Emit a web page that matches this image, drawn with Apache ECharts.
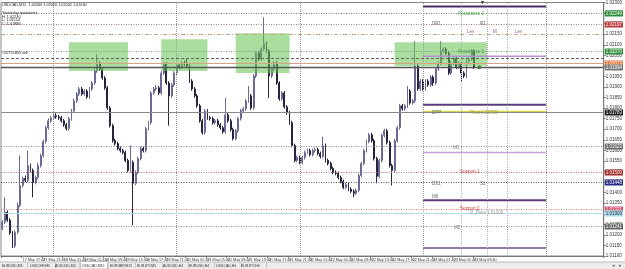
<!DOCTYPE html>
<html><head><meta charset="utf-8">
<script src="https://cdn.jsdelivr.net/npm/echarts@6.0.0/dist/echarts.min.js"></script>
<style>html,body{margin:0;padding:0;background:#fff}#c{width:625px;height:269px}</style>
</head><body><div id="c"></div><script>
const tickLabels = ["17 May 2012","17 May 17:40","17 May 21:40","18 May 01:40","18 May 05:40","18 May 09:40","18 May 13:40","18 May 17:40","18 May 21:40","21 May 01:40","21 May 05:40","21 May 09:40","21 May 13:40","21 May 17:40","21 May 21:40","22 May 01:40","22 May 05:40","22 May 09:40","22 May 13:40","22 May 17:40","22 May 21:40","23 May 01:40","23 May 05:40","23 May 09:40"];
const openP = [1.01230,1.01260,1.01307,1.01270,1.01209,1.01147,1.01213,1.01340,1.01434,1.01467,
1.01458,1.01528,1.01505,1.01448,1.01472,1.01528,1.01576,1.01642,1.01707,1.01740,
1.01754,1.01764,1.01759,1.01754,1.01740,1.01721,1.01703,1.01750,1.01787,1.01834,
1.01867,1.01891,1.01867,1.01881,1.01853,1.01891,1.01919,1.01976,1.02013,1.01985,
1.01943,1.01896,1.01801,1.01717,1.01646,1.01632,1.01609,1.01599,1.01590,1.01552,
1.01505,1.01543,1.01444,1.01496,1.01561,1.01609,1.01599,1.01703,1.01731,1.01872,
1.01891,1.01896,1.01872,1.01966,1.02009,1.01919,1.01858,1.01910,1.01966,1.02004,
1.01994,1.02013,1.02009,1.01999,1.01928,1.01891,1.01858,1.01811,1.01740,1.01684,
1.01787,1.01754,1.01750,1.01731,1.01740,1.01721,1.01707,1.01688,1.01768,1.01740,
1.01698,1.01656,1.01693,1.01750,1.01787,1.01797,1.01834,1.01858,1.01801,1.01952,
1.02060,1.02032,1.02079,1.02107,1.02070,1.01952,1.01985,1.02013,1.01919,1.01844,
1.01872,1.01806,1.01778,1.01731,1.01623,1.01552,1.01566,1.01543,1.01566,1.01590,
1.01599,1.01580,1.01599,1.01604,1.01585,1.01571,1.01623,1.01552,1.01538,1.01514,
1.01496,1.01491,1.01472,1.01453,1.01425,1.01439,1.01416,1.01406,1.01397,1.01411,
1.01481,1.01538,1.01599,1.01642,1.01674,1.01646,1.01561,1.01477,1.01552,1.01670,
1.01693,1.01637,1.01528,1.01505,1.01646,1.01707,1.01811,1.01797,1.01811,1.01881,
1.01825,1.01834,1.01999,1.01891,1.01928,1.01891,1.01928,1.01910,1.01947,1.01919,
1.01985,1.02013,1.02070,1.02079,1.02060,1.01966,1.02013,1.02037,1.01994,1.02013,
1.01966,1.01952,1.02023,1.02032,1.02070];
const closeP = [1.01260,1.01307,1.01270,1.01209,1.01147,1.01213,1.01340,1.01434,1.01467,1.01458,
1.01528,1.01505,1.01448,1.01472,1.01528,1.01576,1.01642,1.01707,1.01740,1.01754,
1.01764,1.01759,1.01754,1.01740,1.01721,1.01703,1.01750,1.01787,1.01834,1.01867,
1.01891,1.01867,1.01881,1.01853,1.01891,1.01919,1.01976,1.02013,1.01985,1.01943,
1.01896,1.01801,1.01717,1.01646,1.01632,1.01609,1.01599,1.01590,1.01552,1.01505,
1.01543,1.01444,1.01496,1.01561,1.01609,1.01599,1.01703,1.01731,1.01872,1.01891,
1.01896,1.01872,1.01966,1.02009,1.01919,1.01858,1.01910,1.01966,1.02004,1.01994,
1.02013,1.02009,1.01999,1.01928,1.01891,1.01858,1.01811,1.01740,1.01684,1.01787,
1.01754,1.01750,1.01731,1.01740,1.01721,1.01707,1.01688,1.01768,1.01740,1.01698,
1.01656,1.01693,1.01750,1.01787,1.01797,1.01834,1.01858,1.01801,1.01952,1.02060,
1.02032,1.02079,1.02107,1.02070,1.01952,1.01985,1.02013,1.01919,1.01844,1.01872,
1.01806,1.01778,1.01731,1.01623,1.01552,1.01566,1.01543,1.01566,1.01590,1.01599,
1.01580,1.01599,1.01604,1.01585,1.01571,1.01623,1.01552,1.01538,1.01514,1.01496,
1.01491,1.01472,1.01453,1.01425,1.01439,1.01416,1.01406,1.01397,1.01411,1.01481,
1.01538,1.01599,1.01642,1.01674,1.01646,1.01561,1.01477,1.01552,1.01670,1.01693,
1.01637,1.01528,1.01505,1.01646,1.01707,1.01811,1.01797,1.01811,1.01881,1.01825,
1.01834,1.01999,1.01891,1.01928,1.01891,1.01928,1.01910,1.01947,1.01919,1.01985,
1.02013,1.02070,1.02079,1.02060,1.01966,1.02013,1.02037,1.01994,1.02013,1.01966,
1.01952,1.02023,1.02032,1.02070,1.01994];
const highP = [1.01269,1.01378,1.01316,1.01279,1.01218,1.01222,1.01352,1.01576,1.01476,1.01481,
1.01599,1.01537,1.01514,1.01481,1.01540,1.01585,1.01651,1.01716,1.01752,1.01763,
1.01773,1.01776,1.01768,1.01763,1.01749,1.01730,1.01759,1.01796,1.01846,1.01876,
1.01900,1.01900,1.01890,1.01890,1.01900,1.01928,1.01985,1.02056,1.02022,1.01994,
1.01952,1.01905,1.01810,1.01726,1.01655,1.01641,1.01618,1.01608,1.01599,1.01561,
1.01623,1.01552,1.01505,1.01570,1.01618,1.01618,1.01712,1.01740,1.01881,1.01900,
1.01910,1.01905,1.01975,1.02018,1.02018,1.01928,1.01919,1.01975,1.02013,1.02013,
1.02022,1.02025,1.02037,1.02008,1.01937,1.01900,1.01867,1.01820,1.01749,1.01796,
1.01796,1.01763,1.01759,1.01749,1.01749,1.01730,1.01716,1.01848,1.01777,1.01749,
1.01707,1.01702,1.01759,1.01796,1.01806,1.01843,1.01905,1.01867,1.01961,1.02069,
1.02069,1.02088,1.02230,1.02116,1.02079,1.01994,1.02022,1.02022,1.01928,1.01881,
1.01881,1.01815,1.01787,1.01740,1.01632,1.01575,1.01575,1.01575,1.01599,1.01608,
1.01608,1.01608,1.01613,1.01613,1.01594,1.01665,1.01632,1.01561,1.01547,1.01523,
1.01505,1.01500,1.01481,1.01462,1.01448,1.01448,1.01425,1.01415,1.01420,1.01490,
1.01547,1.01608,1.01651,1.01683,1.01683,1.01655,1.01570,1.01561,1.01679,1.01702,
1.01702,1.01646,1.01537,1.01655,1.01716,1.01820,1.01820,1.01820,1.01905,1.01890,
1.01843,1.02117,1.02008,1.01937,1.01937,1.01937,1.01937,1.01956,1.01956,1.01994,
1.02022,1.02117,1.02088,1.02088,1.02069,1.02022,1.02046,1.02046,1.02022,1.02022,
1.01975,1.02032,1.02041,1.02079,1.02079];
const lowP = [1.01221,1.01251,1.01261,1.01200,1.01138,1.01138,1.01204,1.01331,1.01425,1.01449,
1.01449,1.01496,1.01378,1.01439,1.01463,1.01519,1.01567,1.01633,1.01698,1.01731,
1.01745,1.01750,1.01745,1.01731,1.01712,1.01694,1.01694,1.01741,1.01778,1.01825,
1.01858,1.01858,1.01858,1.01844,1.01844,1.01882,1.01910,1.01967,1.01976,1.01934,
1.01887,1.01792,1.01708,1.01637,1.01623,1.01600,1.01590,1.01581,1.01543,1.01496,
1.01496,1.01246,1.01435,1.01487,1.01552,1.01590,1.01590,1.01694,1.01722,1.01863,
1.01882,1.01863,1.01863,1.01957,1.01910,1.01717,1.01849,1.01901,1.01957,1.01985,
1.01985,1.02000,1.01990,1.01919,1.01882,1.01849,1.01802,1.01731,1.01675,1.01675,
1.01745,1.01741,1.01722,1.01722,1.01712,1.01698,1.01679,1.01679,1.01731,1.01689,
1.01647,1.01647,1.01684,1.01741,1.01778,1.01788,1.01825,1.01792,1.01792,1.01943,
1.02023,1.02023,1.02070,1.02061,1.01848,1.01943,1.01976,1.01910,1.01835,1.01835,
1.01797,1.01769,1.01722,1.01614,1.01543,1.01543,1.01534,1.01534,1.01557,1.01581,
1.01571,1.01571,1.01590,1.01576,1.01562,1.01562,1.01543,1.01529,1.01505,1.01487,
1.01482,1.01463,1.01444,1.01416,1.01416,1.01407,1.01397,1.01378,1.01388,1.01402,
1.01472,1.01529,1.01590,1.01633,1.01637,1.01552,1.01444,1.01468,1.01543,1.01661,
1.01628,1.01519,1.01434,1.01496,1.01637,1.01698,1.01788,1.01788,1.01802,1.01816,
1.01816,1.01825,1.01882,1.01882,1.01882,1.01882,1.01901,1.01901,1.01905,1.01910,
1.01976,1.02004,1.02061,1.02051,1.01957,1.01957,1.02004,1.01985,1.01985,1.01928,
1.01943,1.01943,1.02014,1.02023,1.01985];

// horizontal price levels (full width)
const levelValues = [1.02249,1.02197,1.02150,1.02070,1.02037,1.02013,1.01994,1.01783,1.01623,1.01500,1.01448,1.01321,1.01303,1.01241];
// daily pivot levels (drawn on the last session)
const pivotValues = [1.02281,1.02046,1.01816,1.01783,1.01590,1.01364,1.01138];
const pivotFrom = 164, pivotTo = 212;
// highlighted zones
const zoneStart = [26,62,91,153];
const zoneEnd = [49,80,112,189];
const zoneLow = [1.01976,1.01976,1.01966,1.01999];
const zoneHigh = [1.02112,1.02126,1.02154,1.02112];
// vertical separators (bar index)
const dayLines = [20,68,116,164,212];
const extraLines = [179,189,197];
const totalBars = 235;
const tradeMark = [186, 1.01994];
const yMin = 1.011, yMax = 1.023, yStep = 0.0005;

// ---- styles (kept apart from data) ----
const DOT = [1,1.5];
const levelStyles = [
 {color:'#5e8e5e', dash:DOT, width:1, tag:'#2f8f3a'},
 {color:'#a87878', dash:DOT, width:1, tag:'#c0393b'},
 {color:'#c9a27e', dash:[4,2,1,2], width:1, tag:null},
 {color:'#7a9a7a', dash:DOT, width:1, tag:'#2f8f3a'},
 {color:'#666666', dash:[3,2], width:1, tag:null},
 {color:'#d9a184', dash:null, width:1, tag:'#e8793c'},
 {color:'#555555', dash:null, width:1.3, tag:'#777777'},
 {color:'#8a8a8a', dash:null, width:1, tag:'#1e1e1e'},
 {color:'#8a8a8a', dash:DOT, width:1, tag:'#6a6a6a'},
 {color:'#b86a6a', dash:DOT, width:1, tag:'#a02c2c'},
 {color:'#555566', dash:DOT, width:1, tag:'#2b2b86'},
 {color:'#c77a8a', dash:DOT, width:1, tag:'#d0506e'},
 {color:'#b3dbea', dash:null, width:1, tag:'#a9d9ea', tagText:'#333'},
 {color:'#8a8a8a', dash:DOT, width:1, tag:'#666666'}
];
const pivotStyles = [
 {color:'#4d3068', width:2},{color:'#b98fd6', width:1.5},{color:'#5b3b7d', width:2},
 {color:'#d6d64a', width:2},{color:'#c9a0dc', width:1.5},{color:'#5b3b7d', width:2},{color:'#6d4d8d', width:1.5}
];
const FONT = 'Liberation Sans';

const cats = [];
for (let i = 0; i < totalBars; i++) cats.push(String(i));
const candles = openP.map((o, i) => [o, closeP[i], lowP[i], highP[i]]);

const vMarks = [];
dayLines.forEach(x => vMarks.push({xAxis: x, lineStyle:{color:'#9a9a9a', type:'dotted', width:1}, label:{show:false}}));
extraLines.forEach(x => vMarks.push({xAxis: x, lineStyle:{color:'#b0b0b0', type:'dotted', width:1}, label:{show:false}}));

function txt(x, y, text, color, size) {
  return {type:'text', x:x, y:y, silent:true, z:50,
    style:{text:text, fill:color||'#333', fontSize:size||4.5, fontFamily:FONT, verticalAlign:'middle', align:'left'}};
}
const graphics = [
  txt(2,4.5,'USDCAD,M15  1.02046 1.02050 1.02002 1.02030','#222',3.8),
  txt(2,13,'Yesterday quotations','#222',3.8),
  txt(2,16.5,'H: 1.02230','#222',3.8),
  txt(2,20,'L: 1.01554','#222',3.8),
  txt(2,23.5,'C: 1.01886','#222',3.8),
  txt(2,53,'#20755835 sell','#222',3.8),
  txt(458,14,'Resistance 2','#4a9a4a'),
  txt(432,24,'DR1','#666'), txt(480,24,'R1','#666'),
  txt(467,32,'Lev','#9060a0'), txt(493,32,'M','#9060a0'), txt(515,32,'Lev','#9060a0'),
  txt(458,52,'Resistance 1','#4a9a4a'),
  txt(432,113,'DPP','#666'), txt(470,113,'Pivot 1.01790','#a0a040'),
  txt(453,148,'M1','#777'),
  txt(460,172,'Support 1','#c04040'),
  txt(432,184,'DS1','#666'), txt(480,184,'S1','#666'),
  txt(432,197,'M0','#666'),
  txt(460,209,'Support 2','#c04040'), txt(470,213,'R_Pivot 1.01300','#999'),
  txt(454,228,'M2','#777'),
  txt(480,3,'\u25BC','#222',5),
  {type:'rect', shape:{x:0,y:262,width:625,height:7}, style:{fill:'#ececec'}, silent:true, z:40},
  {type:'line', shape:{x1:0,y1:262,x2:625,y2:262}, style:{stroke:'#bbb', lineWidth:1}, silent:true, z:41},
  {type:'rect', shape:{x:80,y:261.5,width:28,height:7.5}, style:{fill:'#fff', stroke:'#999', lineWidth:0.6}, silent:true, z:42}
];
const tabs = ['EURUSD,M5','USDCHF,M5','AUDUSD,M5','USDCAD,M15','EURGBP,M15','EURJPY,M5','AUDUSD,H4','EURUSD,H4','USDCAD,H4','EURJPY,H4'];
const tabX = [2,30,55,82,110,137,163,189,216,241];
tabs.forEach((t, i) => {
  graphics.push(txt(tabX[i], 265.7, t, '#333', 3.5));
  graphics.push({type:'line', shape:{x1:tabX[i]+25.5,y1:263,x2:tabX[i]+25.5,y2:268}, style:{stroke:'#aaa', lineWidth:0.6}, silent:true, z:43});
});
graphics.push(txt(612,265.7,'\u25C2','#666',4.5), txt(619,265.7,'\u25B8','#666',4.5));

const chart = echarts.init(document.getElementById('c'), null, {renderer:'canvas'});
chart.setOption({
  animation:false,
  backgroundColor:'#fff',
  grid:{left:1, right:13, top:1, bottom:13, show:true, borderColor:'#888', borderWidth:1, backgroundColor:'#fff'},
  xAxis:{type:'category', data:cats, boundaryGap:true,
    axisLine:{show:true, lineStyle:{color:'#777', width:1}},
    axisTick:{show:true, length:2, interval:(i)=> i % 8 === 0 && i / 8 < tickLabels.length, lineStyle:{color:'#777'}},
    axisLabel:{interval:(i)=> i % 8 === 0, fontSize:3.7, fontFamily:FONT, color:'#333', margin:1.5, align:'left',
      formatter:(v, i)=> (i % 8 === 0 && tickLabels[i / 8]) ? tickLabels[i / 8] : ''},
    splitLine:{show:false}},
  yAxis:{type:'value', position:'right', min:yMin, max:yMax, interval:yStep,
    axisLine:{show:true, lineStyle:{color:'#777'}},
    axisTick:{show:true, length:2, lineStyle:{color:'#777'}},
    axisLabel:{fontSize:4.5, fontFamily:FONT, color:'#333', margin:2, formatter:(v)=> v.toFixed(5)},
    splitLine:{show:false}},
  series:[
    {type:'candlestick', data:candles, barWidth:1.4, z:2,
      itemStyle:{color:'#a4a4c4', color0:'#24243e', borderColor:'#6a6a94', borderColor0:'#24243e', borderWidth:1},
      markLine:{symbol:'none', silent:true, animation:false, data:vMarks},
      markPoint:{silent:true, animation:false, data:[{coord:tradeMark, symbol:'circle', symbolSize:4,
        itemStyle:{color:'#2fa82f'}, label:{show:false}}]}},
    {type:'custom', z:3, silent:true, animation:false,
      data: zoneStart.map((s, i) => [s, zoneEnd[i], zoneLow[i], zoneHigh[i]]),
      encode:{x:[0,1], y:[2,3]},
      renderItem:(p, api) => {
        const a = api.coord([api.value(0), api.value(3)]);
        const b = api.coord([api.value(1), api.value(2)]);
        return {type:'rect', shape:{x:a[0], y:a[1], width:b[0]-a[0], height:b[1]-a[1]},
          style:{fill:'rgba(100,195,80,0.55)'}};
      }},
    {type:'custom', z:5, silent:true, animation:false, clip:false,
      data: levelValues.map(v => [0, v]),
      encode:{x:0, y:1},
      renderItem:(p, api) => {
        const cs = p.coordSys;
        const y = Math.round(api.coord([0, api.value(1)])[1]) + 0.5;
        const s = levelStyles[p.dataIndex];
        const children = [{type:'line', shape:{x1:cs.x, y1:y, x2:cs.x + cs.width, y2:y},
          style:{stroke:s.color, lineWidth:s.width, lineDash:s.dash || null}}];
        if (s.tag) children.push({type:'text', x:cs.x + cs.width + 1, y:y, z2:10,
          style:{text:api.value(1).toFixed(5), fill:s.tagText || '#fff', backgroundColor:s.tag,
            fontSize:4.5, fontFamily:FONT, verticalAlign:'middle', align:'left', padding:[1,1,0,1]}});
        return {type:'group', children:children};
      }},
    {type:'custom', z:4, silent:true, animation:false,
      data: pivotValues.map(v => [pivotFrom, pivotTo, v]),
      encode:{x:[0,1], y:2},
      renderItem:(p, api) => {
        const a = api.coord([api.value(0), api.value(2)]);
        const b = api.coord([api.value(1), api.value(2)]);
        const s = pivotStyles[p.dataIndex];
        return {type:'line', shape:{x1:a[0], y1:a[1], x2:b[0], y2:b[1]}, style:{stroke:s.color, lineWidth:s.width}};
      }}
  ],
  graphic: graphics
});
</script></body></html>
